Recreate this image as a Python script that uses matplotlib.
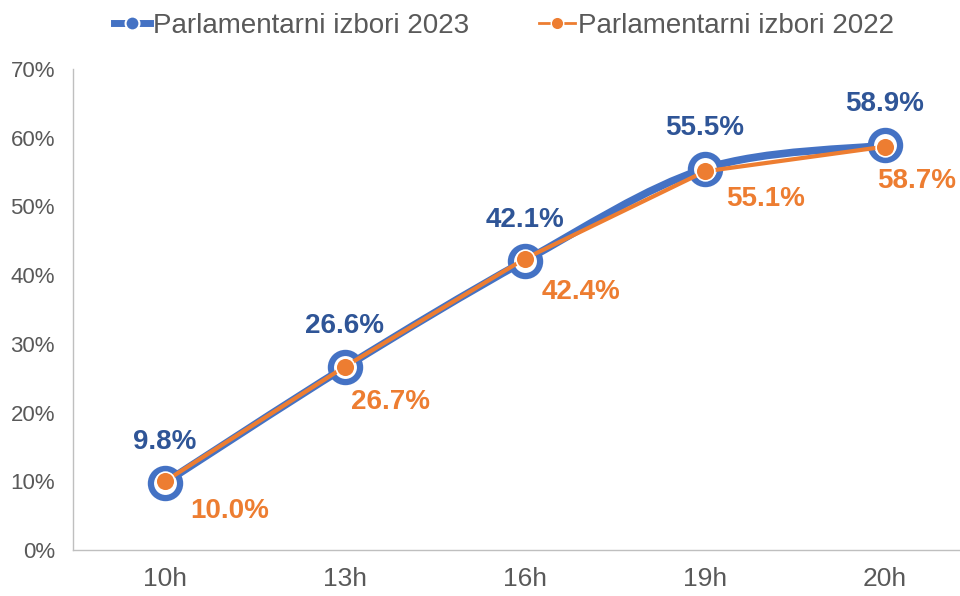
import matplotlib
matplotlib.use('Agg')
import matplotlib.pyplot as plt
from matplotlib.path import Path
from matplotlib.patches import PathPatch
from matplotlib.lines import Line2D
import numpy as np

categories = ['10h', '13h', '16h', '19h', '20h']
turnout_2023 = [9.8, 26.6, 42.1, 55.5, 58.9]
turnout_2022 = [10.0, 26.7, 42.4, 55.1, 58.7]
y_ticks = [0, 10, 20, 30, 40, 50, 60, 70]
series_names = ['Parlamentarni izbori 2023', 'Parlamentarni izbori 2022']

BLUE = '#4472C4'
ORANGE = '#ED7D31'
DARKBLUE = '#2F5597'
GRAY = '#595959'

plt.rcParams['font.family'] = ['Liberation Sans', 'DejaVu Sans']

fig = plt.figure(figsize=(9.6, 5.96), dpi=100)
ax = fig.add_axes([73 / 960, 1 - 550 / 596, 1 - 73 / 960, (550 - 69) / 596])
x = np.arange(len(categories))
ax.set_xlim(-0.511, 4.417)
ax.set_ylim(0, 70)

# smoothed line for 2023 (Bezier through data points, computed in display space)
T = ax.transData
pts = T.transform(np.column_stack([x, turnout_2023]))
ext = np.vstack([pts[0], pts, pts[-1]])
verts = [pts[0]]
codes = [Path.MOVETO]
for i in range(len(pts) - 1):
    p0, p1, p2, p3 = ext[i], ext[i + 1], ext[i + 2], ext[i + 3]
    c1 = p1 + (p2 - p0) / 6
    c2 = p2 - (p3 - p1) / 6
    verts += [c1, c2, p2]
    codes += [Path.CURVE4] * 3
verts = T.inverted().transform(np.array(verts))
patch = PathPatch(Path(verts, codes), fill=False, edgecolor=BLUE, lw=5.5,
                  capstyle='round', joinstyle='round', transform=ax.transData, zorder=2)
ax.add_patch(patch)
ax.plot(x, turnout_2023, linestyle='none', marker='o', ms=21, mfc='white',
        mec=BLUE, mew=4.5, zorder=3)

ax.plot(x, turnout_2022, color=ORANGE, lw=3, marker='o', ms=13.5, mfc=ORANGE,
        mec='white', mew=1.2, zorder=4, solid_capstyle='round')

# data labels
for xi, v in zip(x, turnout_2023):
    ax.annotate(f'{v:.1f}%', (xi, v), xytext=(0, 41), textcoords='offset pixels',
                ha='center', va='center', fontsize=20, fontweight='bold',
                color=DARKBLUE, zorder=5)
orange_offsets = [(65, -30), (46, -35), (56, -33), (61, -28), (32, -34)]
for xi, v, off in zip(x, turnout_2022, orange_offsets):
    ax.annotate(f'{v:.1f}%', (xi, v), xytext=off, textcoords='offset pixels',
                ha='center', va='center', fontsize=20, fontweight='bold',
                color=ORANGE, zorder=5)

ax.set_xticks(x)
ax.set_xticklabels(categories)
ax.set_yticks(y_ticks)
ax.set_yticklabels([f'{t}%' for t in y_ticks])
ax.tick_params(axis='both', length=0, colors=GRAY)
ax.tick_params(axis='y', pad=13, labelsize=16)
ax.tick_params(axis='x', pad=12, labelsize=19)
for s in ['top', 'right']:
    ax.spines[s].set_visible(False)
for s in ['left', 'bottom']:
    ax.spines[s].set_color('#BFBFBF')
    ax.spines[s].set_linewidth(1)

handles = [
    Line2D([], [], color=BLUE, lw=5, marker='o', ms=10, mfc=BLUE, mec='white', mew=1.5),
    Line2D([], [], color=ORANGE, lw=2, marker='o', ms=9, mfc=ORANGE, mec='white'),
]
fig.legend(handles, series_names, loc='upper center', bbox_to_anchor=(0.525, 1.02),
           ncol=2, frameon=False, fontsize=20, labelcolor=GRAY, handlelength=1.3,
           handletextpad=0.1, columnspacing=2.5)

fig.savefig('out.png', dpi=100)
